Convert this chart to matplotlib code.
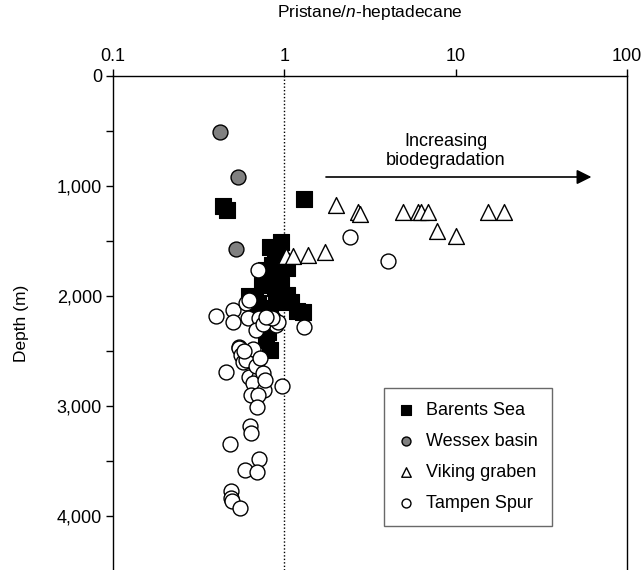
import matplotlib
matplotlib.use("Agg")
import matplotlib.pyplot as plt
from matplotlib.ticker import FixedLocator, FuncFormatter

plt.rcParams['font.family'] = ['Liberation Sans', 'DejaVu Sans']
plt.rcParams['mathtext.fontset'] = 'custom'
plt.rcParams['mathtext.rm'] = 'Liberation Sans'
plt.rcParams['mathtext.it'] = 'Liberation Sans:italic'

# Pristane/n-heptadecane ratio (x) and depth in m (y)
barents_x = [0.44, 0.46, 1.31, 0.96, 0.82, 0.93, 1.04, 0.77, 0.85, 0.67,
             1.04, 0.90, 1.19, 0.72, 0.80, 0.78, 0.82, 1.28, 0.88, 0.70,
             0.88, 0.95, 0.85, 0.78, 0.92, 0.74, 0.95, 1.10, 0.62, 0.82,
             0.76, 0.80]
barents_depth = [1185, 1215, 1118, 1510, 1555, 1585, 1745, 1825, 1870, 2005,
                 1990, 2050, 2135, 2155, 2110, 2400, 2490, 2145, 1930, 2060,
                 1600, 1680, 1720, 1760, 1800, 1900, 1900, 2050, 2000, 2180,
                 2260, 2330]

wessex_x = [0.42, 0.54, 0.52]
wessex_depth = [510, 915, 1575]

viking_x = [2.0, 2.7, 2.75, 4.9, 6.0, 6.25, 6.9, 7.8, 10.0, 15.4, 19.2,
            1.02, 1.12, 1.38, 1.73]
viking_depth = [1175, 1240, 1250, 1235, 1235, 1235, 1235, 1410, 1455, 1240, 1240,
                1640, 1640, 1630, 1600]

tampen_x = [2.42, 4.04, 0.70, 0.40, 0.50, 0.50, 0.60, 0.62, 0.61, 0.716,
            0.80, 0.855, 0.895, 1.31, 0.68, 0.75, 0.92, 0.547, 0.547, 0.56,
            0.573, 0.654, 0.669, 0.70, 0.458, 0.626, 0.716, 0.732, 0.654, 0.765,
            0.64, 0.70, 0.69, 0.97, 0.632, 0.635, 0.479, 0.716, 0.59, 0.69,
            0.49, 0.49, 0.494, 0.548, 0.60, 0.68, 0.75, 0.66, 0.72, 0.77,
            0.85, 0.78, 0.58]
tampen_depth = [1461, 1682, 1760, 2180, 2127, 2233, 2067, 2040, 2203, 2203,
                2218, 2203, 2264, 2285, 2309, 2250, 2233, 2460, 2475, 2536,
                2597, 2551, 2612, 2673, 2688, 2733, 2733, 2809, 2794, 2855,
                2900, 2900, 3006, 2815, 3180, 3245, 3345, 3482, 3582, 3597,
                3770, 3839, 3864, 3930, 2580, 2640, 2700, 2480, 2560, 2760,
                2200, 2190, 2500]

x_ticks = [0.1, 1, 10, 100]
x_labels = ['0.1', '1', '10', '100']
y_major = [0, 1000, 2000, 3000, 4000]
y_minor = [500, 1500, 2500, 3500]

fig = plt.figure(figsize=(6.42, 5.70), dpi=100)
ax = fig.add_axes([113 / 642, 0.0, 514 / 642, 494 / 570])

ax.axvline(1, color='black', ls=(0, (1, 1.5)), lw=1.0, zorder=1)

ax.scatter(barents_x, barents_depth, marker='s', s=130, c='black',
           edgecolors='black', linewidths=0.8, label='Barents Sea', zorder=3)
ax.scatter(tampen_x, tampen_depth, marker='o', s=115, c='white',
           edgecolors='black', linewidths=1.0, label='Tampen Spur', zorder=4)
ax.scatter(viking_x, viking_depth, marker='^', s=130, c='white',
           edgecolors='black', linewidths=1.0, label='Viking graben', zorder=5)
ax.scatter(wessex_x, wessex_depth, marker='o', s=115, c='#808080',
           edgecolors='black', linewidths=1.0, label='Wessex basin', zorder=6)

ax.set_xscale('log')
ax.set_xlim(0.1, 100)
ax.set_ylim(4490, 0)

ax.xaxis.tick_top()
ax.xaxis.set_label_position('top')
ax.xaxis.set_major_locator(FixedLocator(x_ticks))
ax.xaxis.set_minor_locator(FixedLocator([]))
ax.set_xticklabels(x_labels)
ax.set_yticks(y_major)
ax.yaxis.set_minor_locator(FixedLocator(y_minor))
ax.yaxis.set_major_formatter(FuncFormatter(lambda v, p: f"{v:,.0f}"))
ax.tick_params(axis='both', which='both', direction='out', length=5,
               width=1.0, labelsize=13, pad=3)
ax.tick_params(axis='y', which='both', right=False)
ax.spines['bottom'].set_visible(False)
for s in ['top', 'left', 'right']:
    ax.spines[s].set_linewidth(1.0)

ax.set_xlabel('Pristane/$\\mathit{n}$-heptadecane', fontsize=12.5, labelpad=22)
ax.set_ylabel('Depth (m)', fontsize=12.5, labelpad=20)

# arrow and annotation
ax.annotate('', xy=(62, 918), xytext=(1.75, 918),
            arrowprops=dict(arrowstyle='-|>', color='black', lw=1.2,
                            mutation_scale=22, shrinkA=0, shrinkB=0))
ax.text(8.75, 680, 'Increasing\nbiodegradation', ha='center', va='center',
        fontsize=13, linespacing=1.2)

handles, labels = ax.get_legend_handles_labels()
order = [0, 3, 2, 1]
leg = ax.legend([handles[i] for i in order], [labels[i] for i in order],
                loc='upper left', bbox_to_anchor=(0.527, 0.368),
                fontsize=13, markerscale=0.6, frameon=True, fancybox=False,
                edgecolor='#444444', borderpad=0.75, labelspacing=0.78,
                handlelength=1.0, handletextpad=0.6, borderaxespad=0)
leg.get_frame().set_linewidth(1.0)

fig.savefig('out.png', dpi=100)
